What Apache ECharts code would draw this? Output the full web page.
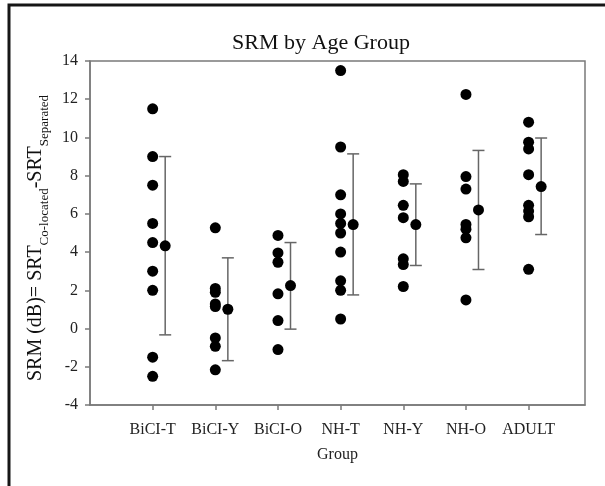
<!DOCTYPE html>
<html style="height:100%">
<meta charset="utf-8" />
<title>SRM by Age Group</title>
<script src="https://cdn.jsdelivr.net/npm/echarts@6/dist/echarts.min.js"></script>
<body style="margin:0;height:100%;width:100%;background:#fff">
<div id="chartmain" style="width:605px;height:486px;"></div>
<script type="text/javascript">

    var groups = ['BiCI-T', 'BiCI-Y', 'BiCI-O', 'NH-T', 'NH-Y', 'NH-O', 'ADULT'];

    // individual SRM values per group (dB)
    var bicit = [11.5, 9.0, 7.5, 5.5, 4.5, 3.0, 2.0, -1.5, -2.5];
    var biciy = [5.27, 2.1, 1.9, 1.29, 1.15, -0.49, -0.93, -2.16];
    var bicio = [4.87, 3.96, 3.47, 1.82, 0.42, -1.1];
    var nht   = [13.5, 9.5, 7.0, 6.0, 5.5, 5.0, 4.0, 2.5, 2.0, 0.5];
    var nhy   = [8.05, 7.7, 6.45, 5.8, 3.65, 3.35, 2.2];
    var nho   = [12.25, 7.95, 7.3, 5.45, 5.2, 4.75, 1.5];
    var adult = [10.8, 9.75, 9.4, 8.05, 6.45, 6.15, 5.85, 3.1];

    // group mean and error bar ends
    var means   = [4.33, 1.01, 2.25, 5.44, 5.44, 6.21, 7.43];
    var errLow  = [-0.33, -1.68, -0.03, 1.76, 3.3, 3.09, 4.92];
    var errHigh = [9.0, 3.7, 4.5, 9.14, 7.57, 9.32, 9.97];

    var yTicks = [-4, -2, 0, 2, 4, 6, 8, 10, 12, 14];

    var FONT = "'Liberation Serif', 'Times New Roman', serif";
    var MEAN_OFFSET = 0.2;

    var myChart = echarts.init(document.getElementById('chartmain'));

    var allGroups = [bicit, biciy, bicio, nht, nhy, nho, adult];
    var pointData = [];
    for (var g = 0; g < allGroups.length; g++) {
        for (var k = 0; k < allGroups[g].length; k++) {
            pointData.push([g + 1, allGroups[g][k]]);
        }
    }
    var meanData = [];
    var errData = [];
    for (var i = 0; i < means.length; i++) {
        meanData.push([i + 1 + MEAN_OFFSET, means[i]]);
        errData.push([i + 1 + MEAN_OFFSET, errLow[i], errHigh[i]]);
    }
    var tickPos = groups.map(function (n, i) { return i + 1; });

    var option = {
        backgroundColor: '#fff',
        animation: false,
        textStyle: { fontFamily: FONT },
        title: {
            text: 'SRM by Age Group',
            left: 316,
            top: 27,
            textAlign: 'center',
            textStyle: { fontFamily: FONT, fontSize: 22, fontWeight: 'normal', color: '#111' }
        },
        graphic: [{
            type: 'rect',
            shape: { x: 9, y: 5, width: 640, height: 520 },
            style: { fill: 'none', stroke: '#161616', lineWidth: 3 },
            silent: true
        }],
        grid: {
            left: 90, top: 61, right: 20, bottom: 81,
            show: true, borderColor: '#7a7a7a', borderWidth: 1.5
        },
        xAxis: {
            type: 'value',
            min: 0,
            max: 7.9,
            name: 'Group',
            nameLocation: 'middle',
            nameGap: 42,
            nameTextStyle: { fontFamily: FONT, fontSize: 16, color: '#222' },
            splitLine: { show: false },
            axisLine: { onZero: false, lineStyle: { color: '#7a7a7a', width: 1.5 } },
            axisTick: { customValues: tickPos, length: 5, lineStyle: { color: '#7a7a7a', width: 1.5 } },
            axisLabel: {
                customValues: tickPos,
                margin: 17,
                fontFamily: FONT, fontSize: 16, color: '#222',
                formatter: function (v) { return groups[Math.round(v) - 1] || ''; }
            }
        },
        yAxis: {
            type: 'value',
            min: -4,
            max: 14,
            interval: 2,
            name: '{m|SRM (dB)= SRT}{s|Co-located}{m|-SRT}{s|Separated}',
            nameLocation: 'middle',
            nameGap: 37,
            nameRotate: 90,
            nameTextStyle: {
                padding: [0, 10, 0, 0],
                rich: {
                    m: { fontFamily: FONT, fontSize: 20, color: '#111', lineHeight: 25, verticalAlign: 'top' },
                    s: { fontFamily: FONT, fontSize: 13, color: '#111', lineHeight: 14, verticalAlign: 'bottom' }
                }
            },
            splitLine: { show: false },
            axisLine: { lineStyle: { color: '#7a7a7a', width: 1.5 } },
            axisTick: { length: 5, lineStyle: { color: '#7a7a7a', width: 1.5 } },
            axisLabel: {
                margin: 12,
                fontFamily: FONT, fontSize: 16, color: '#222',
                customValues: yTicks
            }
        },
        series: [
            {
                name: 'errors',
                type: 'custom',
                data: errData,
                renderItem: function (params, api) {
                    var x = api.value(0);
                    var lo = api.coord([x, api.value(1)]);
                    var hi = api.coord([x, api.value(2)]);
                    var cap = 6;
                    var st = { stroke: '#666', lineWidth: 1.5 };
                    return {
                        type: 'group',
                        children: [
                            { type: 'line', shape: { x1: lo[0], y1: lo[1], x2: hi[0], y2: hi[1] }, style: st },
                            { type: 'line', shape: { x1: hi[0] - cap, y1: hi[1], x2: hi[0] + cap, y2: hi[1] }, style: st },
                            { type: 'line', shape: { x1: lo[0] - cap, y1: lo[1], x2: lo[0] + cap, y2: lo[1] }, style: st }
                        ]
                    };
                },
                z: 1
            },
            {
                name: 'points',
                type: 'scatter',
                data: pointData,
                symbolSize: 11,
                itemStyle: { color: '#000', opacity: 1 },
                z: 3
            },
            {
                name: 'means',
                type: 'scatter',
                data: meanData,
                symbolSize: 11,
                itemStyle: { color: '#000', opacity: 1 },
                z: 3
            }
        ]
    };
    myChart.setOption(option);
</script>
</body>
</html>
